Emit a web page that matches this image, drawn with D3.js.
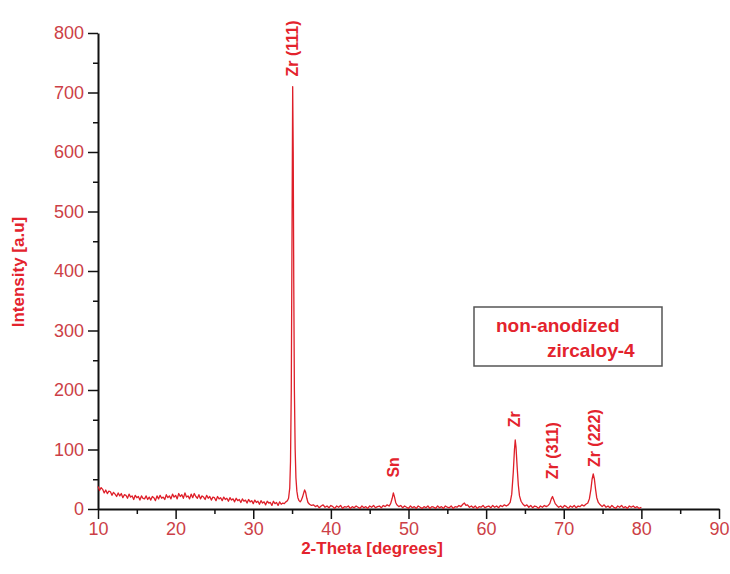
<!DOCTYPE html>
<html>
<head>
<meta charset="utf-8">
<script src="https://cdn.jsdelivr.net/npm/d3@7"></script>
<style>
  body { margin: 0; background: #fff; }
  svg { display: block; font-family: Arial, "Liberation Sans", sans-serif; }
  .axis path, .axis line { stroke: #111; }
  .axis text { fill: #cc3f47; font-size: 18px; }
</style>
</head>
<body>
<div id="chart"></div>
<script>
// XRD scan, [2-theta, intensity]
var scanPoints = [
  [10.0,38],[10.2,31],[10.4,36],[10.6,33],[10.8,27],[11.0,32],[11.2,26],[11.4,30],[11.6,29],[11.8,23],
  [12.0,28],[12.2,25],[12.4,21],[12.6,27],[12.8,22],[13.0,26],[13.2,19],[13.4,24],[13.6,23],[13.8,18],
  [14.0,25],[14.2,20],[14.4,22],[14.6,16],[14.8,23],[15.0,19],[15.2,21],[15.4,15],[15.6,22],[15.8,18],
  [16.0,17],[16.2,22],[16.4,16],[16.6,20],[16.8,15],[17.0,21],[17.2,19],[17.4,14],[17.6,22],[17.8,17],
  [18.0,23],[18.2,18],[18.4,20],[18.6,16],[18.8,24],[19.0,19],[19.2,22],[19.4,17],[19.6,25],[19.8,20],
  [20.0,23],[20.2,17],[20.4,26],[20.6,21],[20.8,24],[21.0,18],[21.2,27],[21.4,20],[21.6,22],[21.8,17],
  [22.0,25],[22.2,19],[22.4,26],[22.6,21],[22.8,18],[23.0,24],[23.2,17],[23.4,22],[23.6,20],[23.8,16],
  [24.0,23],[24.2,18],[24.4,21],[24.6,15],[24.8,20],[25.0,19],[25.2,14],[25.4,21],[25.6,17],[25.8,19],
  [26.0,14],[26.2,20],[26.4,16],[26.6,18],[26.8,13],[27.0,19],[27.2,15],[27.4,17],[27.6,12],[27.8,18],
  [28.0,14],[28.2,16],[28.4,11],[28.6,17],[28.8,13],[29.0,15],[29.2,10],[29.4,16],[29.6,12],[29.8,14],
  [30.0,9],[30.2,15],[30.4,11],[30.6,13],[30.8,8],[31.0,14],[31.2,10],[31.4,12],[31.6,7],[31.8,13],
  [32.0,10],[32.2,11],[32.4,6],[32.6,13],[32.8,9],[33.0,11],[33.2,6],[33.4,12],[33.6,8],[33.8,10],
  [34.0,9],[34.2,12],[34.4,14],[34.55,18],[34.7,35],[34.8,80],[34.9,200],[35.0,480],[35.08,710],
  [35.15,600],[35.22,380],[35.3,200],[35.4,100],[35.5,52],[35.62,30],[35.75,19],[35.9,14],[36.05,12],
  [36.2,15],[36.35,20],[36.5,27],[36.62,32],[36.75,28],[36.9,18],[37.05,11],[37.25,8],[37.5,6],
  [37.75,7],[38.0,4],[38.25,6],[38.5,2],[38.75,5],[39.0,7],[39.25,3],[39.5,5],[39.75,2],[40.0,6],
  [40.25,4],[40.5,1],[40.75,5],[41.0,3],[41.25,6],[41.5,1],[41.75,4],[42.0,3],[42.25,5],[42.5,1],
  [42.75,4],[43.0,2],[43.25,5],[43.5,3],[43.75,1],[44.0,5],[44.25,2],[44.5,4],[44.75,1],[45.0,5],
  [45.25,3],[45.5,6],[45.75,2],[46.0,4],[46.25,5],[46.5,2],[46.75,6],[47.0,4],[47.25,7],[47.5,5],
  [47.7,9],[47.9,18],[48.05,27],[48.2,20],[48.35,11],[48.5,7],[48.75,4],[49.0,6],[49.25,2],[49.5,5],
  [49.75,3],[50.0,1],[50.25,5],[50.5,2],[50.75,4],[51.0,1],[51.25,5],[51.5,3],[51.75,1],[52.0,4],
  [52.25,2],[52.5,5],[52.75,1],[53.0,4],[53.25,3],[53.5,1],[53.75,5],[54.0,2],[54.25,4],[54.5,1],
  [54.75,5],[55.0,3],[55.25,2],[55.5,5],[55.75,1],[56.0,4],[56.25,3],[56.5,6],[56.75,4],[57.0,8],
  [57.2,10],[57.4,6],[57.6,7],[57.85,3],[58.1,5],[58.35,2],[58.6,5],[58.85,1],[59.1,4],[59.35,3],
  [59.6,6],[59.85,2],[60.1,4],[60.35,5],[60.6,2],[60.85,6],[61.1,3],[61.35,5],[61.6,2],[61.85,6],
  [62.1,4],[62.35,7],[62.6,5],[62.85,7],[63.1,11],[63.3,25],[63.5,62],[63.65,100],[63.75,116],
  [63.85,104],[64.0,70],[64.15,40],[64.3,22],[64.5,13],[64.75,8],[65.0,5],[65.25,7],[65.5,3],
  [65.75,6],[66.0,2],[66.25,5],[66.5,4],[66.75,1],[67.0,5],[67.25,3],[67.5,6],[67.75,4],[68.0,6],
  [68.2,9],[68.4,17],[68.55,21],[68.7,16],[68.9,9],[69.1,6],[69.35,3],[69.6,5],[69.85,2],[70.1,6],
  [70.35,4],[70.6,1],[70.85,5],[71.1,3],[71.35,6],[71.6,2],[71.85,5],[72.1,4],[72.35,7],[72.6,5],
  [72.85,8],[73.1,10],[73.3,17],[73.5,33],[73.65,50],[73.8,59],[73.95,50],[74.1,33],[74.25,19],
  [74.45,11],[74.7,7],[74.95,4],[75.2,7],[75.45,3],[75.7,5],[75.95,2],[76.2,6],[76.45,3],[76.7,1],
  [76.95,5],[77.2,3],[77.45,6],[77.7,2],[77.95,4],[78.2,1],[78.45,5],[78.7,3],[78.95,5],[79.2,2],
  [79.45,4],[79.7,1],[80.0,3]
];

// peak labels: text, 2-theta, label centre in data units
var peakNames = ['Zr (111)', 'Sn', 'Zr', 'Zr (311)', 'Zr (222)'];
var peakTheta = [35.1, 48.1, 63.6, 68.6, 73.9];
var peakLabelY = [774, 70, 151, 98, 119];

var xTicks = [10, 20, 30, 40, 50, 60, 70, 80, 90];
var yTicks = [0, 100, 200, 300, 400, 500, 600, 700, 800];
var legendLines = ['non-anodized', 'zircaloy-4'];

var width = 730, height = 574;
var margin = { top: 33, right: 11, bottom: 65, left: 98 };

var svg = d3.select('#chart').append('svg')
  .attr('width', width)
  .attr('height', height);

var x = d3.scaleLinear()
  .domain([10, 90])
  .range([margin.left, width - margin.right]);

var y = d3.scaleLinear()
  .domain([0, 800])
  .range([height - margin.bottom, margin.top]);

// minor ticks first, then major ticks with labels on top
svg.append('g')
  .attr('class', 'axis')
  .attr('transform', 'translate(0,' + y(0) + ')')
  .call(d3.axisBottom(x).tickValues(d3.range(15, 90, 10)).tickSize(5).tickFormat(''))
  .call(function (g) { g.select('.domain').remove(); })
  .selectAll('line').attr('stroke-width', 1.5);

svg.append('g')
  .attr('class', 'axis')
  .attr('transform', 'translate(' + x(10) + ',0)')
  .call(d3.axisLeft(y).tickValues(d3.range(50, 800, 100)).tickSize(5).tickFormat(''))
  .call(function (g) { g.select('.domain').remove(); })
  .selectAll('line').attr('stroke-width', 1.5);

var xAxis = svg.append('g')
  .attr('class', 'axis')
  .attr('transform', 'translate(0,' + y(0) + ')')
  .call(d3.axisBottom(x).tickValues(xTicks).tickSize(10).tickSizeOuter(0).tickPadding(3));

var yAxis = svg.append('g')
  .attr('class', 'axis')
  .attr('transform', 'translate(' + x(10) + ',0)')
  .call(d3.axisLeft(y).tickValues(yTicks).tickSize(10).tickSizeOuter(0).tickPadding(4));

svg.selectAll('.axis .domain').attr('stroke-width', 2);
svg.selectAll('.axis .tick line').attr('stroke-width', 1.5);

// axis titles
svg.append('text')
  .attr('x', 372)
  .attr('y', 554)
  .attr('text-anchor', 'middle')
  .attr('font-weight', 'bold')
  .attr('font-size', 17)
  .attr('fill', '#e3232d')
  .text('2-Theta [degrees]');

svg.append('text')
  .attr('transform', 'translate(24,272) rotate(-90)')
  .attr('text-anchor', 'middle')
  .attr('font-weight', 'bold')
  .attr('font-size', 17)
  .attr('fill', '#e3232d')
  .text('Intensity [a.u]');

// the scan
var line = d3.line()
  .x(function (d) { return x(d[0]); })
  .y(function (d) { return y(d[1]); });

svg.append('path')
  .datum(scanPoints)
  .attr('fill', 'none')
  .attr('stroke', '#de1f29')
  .attr('stroke-width', 1.3)
  .attr('stroke-linejoin', 'round')
  .attr('d', line);

// peak labels, rotated
svg.selectAll('.peak-label')
  .data(peakNames)
  .enter().append('text')
  .attr('class', 'peak-label')
  .attr('transform', function (d, i) {
    return 'translate(' + x(peakTheta[i]) + ',' + y(peakLabelY[i]) + ') rotate(-90)';
  })
  .attr('text-anchor', 'middle')
  .attr('dy', '0.35em')
  .attr('font-weight', 'bold')
  .attr('font-size', 16)
  .attr('fill', '#e3232d')
  .text(function (d) { return d; });

// legend box
var legend = svg.append('g')
  .attr('transform', 'translate(474,307)');

legend.append('rect')
  .attr('width', 188)
  .attr('height', 59)
  .attr('fill', '#fff')
  .attr('stroke', '#555')
  .attr('stroke-width', 1.5);

legend.selectAll('text')
  .data(legendLines)
  .enter().append('text')
  .attr('x', function (d, i) { return i === 0 ? 22 : 73; })
  .attr('y', function (d, i) { return 25 + i * 25; })
  .attr('font-weight', 'bold')
  .attr('font-size', 19)
  .attr('fill', '#e3232d')
  .text(function (d) { return d; });
</script>
</body>
</html>
